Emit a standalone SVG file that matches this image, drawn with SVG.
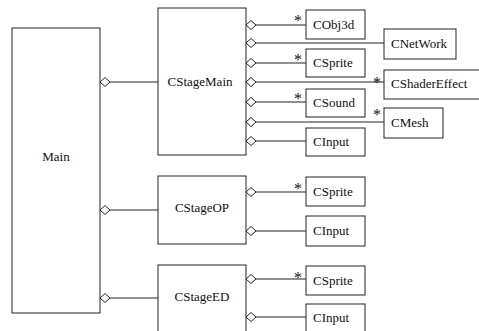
<svg xmlns="http://www.w3.org/2000/svg" width="479" height="331" viewBox="0 0 479 331" font-family="'Liberation Serif','DejaVu Serif','Times New Roman',serif">
<style>
.box{fill:#fff;stroke:#222;stroke-width:1}
.ln{stroke:#222;stroke-width:1;fill:none}
.dm{fill:#fff;stroke:#222;stroke-width:1}
text{font-family:'Liberation Serif','DejaVu Serif','Times New Roman',serif;font-size:13px;fill:#111}
.c{text-anchor:middle}
.st{font-size:16px;text-anchor:middle}
</style>
<defs>
<polygon id="dia" points="0,0 5,-4.5 10,0 5,4.5" class="dm"/>
</defs>
<g id="connectors">
<line class="ln" x1="110" y1="82" x2="158" y2="82"/>
<line class="ln" x1="110" y1="210" x2="158" y2="210"/>
<line class="ln" x1="110" y1="298" x2="158" y2="298"/>
<line class="ln" x1="256" y1="25" x2="306" y2="25"/>
<line class="ln" x1="256" y1="43" x2="384" y2="43"/>
<line class="ln" x1="256" y1="63" x2="306" y2="63"/>
<line class="ln" x1="256" y1="82" x2="384" y2="82"/>
<line class="ln" x1="256" y1="102" x2="306" y2="102"/>
<line class="ln" x1="256" y1="122" x2="384" y2="122"/>
<line class="ln" x1="256" y1="141" x2="306" y2="141"/>
<line class="ln" x1="256" y1="192" x2="306" y2="192"/>
<line class="ln" x1="256" y1="231" x2="306" y2="231"/>
<line class="ln" x1="256" y1="279" x2="306" y2="279"/>
<line class="ln" x1="256" y1="317" x2="306" y2="317"/>
<use href="#dia" x="100" y="82"/>
<use href="#dia" x="100" y="210"/>
<use href="#dia" x="100" y="298"/>
<use href="#dia" x="246" y="25"/>
<use href="#dia" x="246" y="43"/>
<use href="#dia" x="246" y="63"/>
<use href="#dia" x="246" y="82"/>
<use href="#dia" x="246" y="102"/>
<use href="#dia" x="246" y="122"/>
<use href="#dia" x="246" y="141"/>
<use href="#dia" x="246" y="192"/>
<use href="#dia" x="246" y="231"/>
<use href="#dia" x="246" y="279"/>
<use href="#dia" x="246" y="317"/>
<text class="st" x="298" y="26">*</text>
<text class="st" x="298" y="65">*</text>
<text class="st" x="377" y="88">*</text>
<text class="st" x="298" y="104">*</text>
<text class="st" x="377" y="120">*</text>
<text class="st" x="298" y="194">*</text>
<text class="st" x="298" y="283">*</text>
</g>
<g id="Main"><rect class="box" x="12" y="28" width="88" height="285"/><text class="c" x="56" y="161">Main</text></g>
<g id="CStageMain"><rect class="box" x="158" y="8" width="88" height="147"/><text class="c" x="200" y="86">CStageMain</text></g>
<g id="CStageOP"><rect class="box" x="158" y="176" width="88" height="68"/><text class="c" x="202" y="212">CStageOP</text></g>
<g id="CStageED"><rect class="box" x="158" y="265" width="88" height="80"/><text class="c" x="202" y="301">CStageED</text></g>
<g id="CObj3d"><rect class="box" x="306" y="10" width="59" height="29"/><text x="313" y="29">CObj3d</text></g>
<g id="CNetWork"><rect class="box" x="384" y="29" width="72" height="30"/><text x="391" y="48">CNetWork</text></g>
<g id="CSprite1"><rect class="box" x="306" y="49" width="59" height="28"/><text x="313" y="67">CSprite</text></g>
<g id="CShaderEffect"><rect class="box" x="384" y="70" width="100" height="29"/><text x="391" y="88">CShaderEffect</text></g>
<g id="CSound"><rect class="box" x="306" y="89" width="59" height="28"/><text x="313" y="107">CSound</text></g>
<g id="CMesh"><rect class="box" x="384" y="108" width="59" height="30"/><text x="391" y="127">CMesh</text></g>
<g id="CInput1"><rect class="box" x="306" y="128" width="59" height="28"/><text x="313" y="146">CInput</text></g>
<g id="CSprite2"><rect class="box" x="306" y="177" width="59" height="29"/><text x="313" y="196">CSprite</text></g>
<g id="CInput2"><rect class="box" x="306" y="216" width="59" height="30"/><text x="313" y="235">CInput</text></g>
<g id="CSprite3"><rect class="box" x="306" y="266" width="59" height="29"/><text x="313" y="285">CSprite</text></g>
<g id="CInput3"><rect class="box" x="306" y="304" width="59" height="40"/><text x="313" y="322">CInput</text></g>
</svg>
